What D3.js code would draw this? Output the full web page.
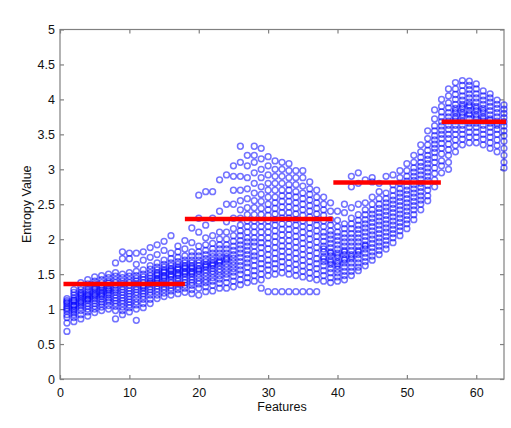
<!DOCTYPE html>
<html><head><meta charset="utf-8">
<script src="https://cdn.jsdelivr.net/npm/d3@7"></script>
<style>
html,body{margin:0;padding:0;background:#fff;}
svg{display:block;}
text{font-family:"Liberation Sans",Arial,sans-serif;fill:#111;}
</style></head>
<body><svg id="chart" width="511" height="428"></svg>
<script>
// Entropy samples per feature (features 1..64)
const samplesF01to18 = [
 [0.68,0.8,0.88,0.92,0.97,1.0,1.02,1.05,1.08,1.1,1.12,1.15],
 [0.82,0.88,0.92,0.95,0.98,1.0,1.03,1.06,1.1,1.13,1.16,1.2,1.24,1.28,1.05,1.12],
 [0.86,0.92,0.98,1.02,1.05,1.08,1.12,1.15,1.18,1.2,1.24,1.28,1.32,1.38,1.1,1.22],
 [0.9,0.96,1.0,1.04,1.08,1.12,1.15,1.18,1.22,1.25,1.28,1.32,1.36,1.42,1.14,1.2],
 [0.95,1.0,1.04,1.08,1.12,1.15,1.18,1.22,1.25,1.28,1.32,1.36,1.4,1.46,1.2,1.3],
 [0.98,1.03,1.07,1.1,1.14,1.18,1.2,1.24,1.27,1.3,1.34,1.38,1.42,1.48,1.22,1.32],
 [1.0,1.05,1.1,1.13,1.16,1.2,1.23,1.26,1.3,1.33,1.37,1.4,1.45,1.5,1.28],
 [0.86,0.98,1.04,1.08,1.12,1.16,1.2,1.24,1.27,1.3,1.34,1.38,1.42,1.47,1.52,1.66],
 [0.92,0.98,1.03,1.08,1.12,1.16,1.2,1.24,1.28,1.32,1.36,1.4,1.45,1.5,1.72,1.82],
 [0.96,1.02,1.06,1.1,1.14,1.18,1.22,1.26,1.3,1.34,1.38,1.42,1.47,1.52,1.72,1.8],
 [0.84,1.0,1.06,1.1,1.15,1.2,1.24,1.28,1.32,1.36,1.4,1.44,1.48,1.54,1.64,1.8],
 [1.02,1.08,1.14,1.18,1.22,1.26,1.3,1.34,1.38,1.42,1.46,1.5,1.56,1.7,1.82,1.32],
 [1.08,1.14,1.2,1.24,1.28,1.32,1.36,1.4,1.44,1.48,1.52,1.57,1.62,1.74,1.88,1.38],
 [1.15,1.2,1.25,1.29,1.33,1.37,1.4,1.44,1.48,1.52,1.56,1.6,1.66,1.78,1.92,1.42,1.5],
 [1.18,1.23,1.28,1.32,1.36,1.4,1.44,1.48,1.52,1.56,1.6,1.64,1.7,1.84,1.97,1.46,1.54],
 [1.2,1.26,1.3,1.34,1.38,1.42,1.46,1.5,1.54,1.58,1.62,1.66,1.72,1.8,2.05,1.48,1.56],
 [1.22,1.28,1.32,1.36,1.4,1.44,1.48,1.52,1.56,1.6,1.64,1.68,1.74,1.82,1.9,1.5,1.58],
 [1.24,1.3,1.34,1.38,1.42,1.46,1.5,1.54,1.58,1.62,1.66,1.7,1.76,1.86,1.98,1.52,1.6]
];
const samplesF19to39 = [
 [1.22,1.28,1.34,1.38,1.42,1.46,1.5,1.54,1.58,1.62,1.66,1.7,1.76,1.82,1.95,2.16,1.52,1.6],
 [1.2,1.3,1.36,1.4,1.45,1.5,1.54,1.58,1.62,1.66,1.7,1.76,1.82,1.9,2.1,2.3,2.63,1.56],
 [1.25,1.32,1.38,1.42,1.47,1.52,1.56,1.6,1.64,1.68,1.72,1.78,1.84,1.92,2.02,2.2,2.68,1.62],
 [1.26,1.34,1.4,1.45,1.5,1.54,1.58,1.62,1.66,1.7,1.75,1.8,1.86,1.94,2.05,2.3,2.68,1.64],
 [1.3,1.37,1.43,1.48,1.53,1.57,1.62,1.66,1.7,1.75,1.8,1.86,1.92,2.0,2.1,2.4,2.85,1.68],
 [1.3,1.38,1.45,1.5,1.55,1.6,1.65,1.7,1.75,1.8,1.86,1.92,2.0,2.1,2.25,2.5,2.92,1.72],
 [1.32,1.4,1.47,1.53,1.58,1.63,1.68,1.73,1.78,1.84,1.9,1.97,2.05,2.15,2.3,2.5,2.7,2.9,3.05],
 [1.35,1.42,1.5,1.56,1.62,1.68,1.74,1.8,1.86,1.92,1.98,2.05,2.12,2.2,2.3,2.42,2.55,2.7,2.9,3.1,3.33],
 [1.38,1.45,1.52,1.6,1.66,1.72,1.78,1.84,1.9,1.96,2.02,2.1,2.18,2.26,2.35,2.45,2.58,2.72,2.88,3.05,3.2],
 [1.4,1.48,1.55,1.62,1.7,1.76,1.82,1.9,1.96,2.02,2.1,2.18,2.26,2.35,2.45,2.55,2.66,2.8,2.95,3.1,3.2,3.33],
 [1.3,1.42,1.5,1.58,1.65,1.72,1.8,1.88,1.95,2.02,2.1,2.18,2.26,2.35,2.44,2.54,2.64,2.75,2.88,3.0,3.15,3.3],
 [1.25,1.48,1.56,1.63,1.7,1.78,1.86,1.94,2.02,2.1,2.18,2.26,2.34,2.42,2.5,2.6,2.7,2.8,2.92,3.05,3.18],
 [1.25,1.5,1.58,1.65,1.72,1.8,1.88,1.96,2.04,2.12,2.2,2.28,2.36,2.44,2.52,2.6,2.7,2.8,2.9,3.0,3.12],
 [1.25,1.52,1.6,1.68,1.75,1.83,1.9,1.98,2.06,2.14,2.22,2.3,2.38,2.46,2.54,2.62,2.7,2.8,2.9,3.0,3.1],
 [1.25,1.5,1.58,1.66,1.74,1.82,1.9,1.98,2.06,2.14,2.22,2.3,2.38,2.46,2.54,2.62,2.7,2.78,2.88,2.98,3.08],
 [1.25,1.48,1.56,1.64,1.72,1.8,1.88,1.96,2.04,2.12,2.2,2.28,2.36,2.44,2.52,2.6,2.68,2.78,2.88,2.98],
 [1.25,1.46,1.54,1.62,1.7,1.78,1.86,1.94,2.02,2.1,2.18,2.26,2.34,2.42,2.5,2.58,2.66,2.76,2.88,2.98],
 [1.25,1.44,1.52,1.6,1.68,1.76,1.84,1.92,2.0,2.08,2.16,2.24,2.32,2.4,2.48,2.56,2.64,2.72,2.82],
 [1.25,1.42,1.5,1.58,1.65,1.72,1.8,1.88,1.96,2.04,2.12,2.2,2.28,2.36,2.44,2.52,2.6,2.7],
 [1.4,1.48,1.55,1.62,1.68,1.75,1.82,1.9,1.97,2.04,2.1,2.18,2.26,2.34,2.42,2.5,2.6,1.72,1.86],
 [1.38,1.45,1.52,1.58,1.64,1.7,1.76,1.82,1.88,1.94,2.0,2.06,2.12,2.2,2.28,2.4,2.52,1.67,1.8]
];
const samplesF40to54 = [
 [1.4,1.46,1.52,1.57,1.62,1.68,1.74,1.8,1.86,1.92,1.98,2.04,2.1,2.18,2.27,2.4,1.65,1.77],
 [1.42,1.48,1.54,1.6,1.66,1.72,1.78,1.84,1.9,1.96,2.02,2.08,2.15,2.22,2.38,2.5,1.7,1.82],
 [1.48,1.54,1.6,1.66,1.72,1.78,1.84,1.9,1.96,2.02,2.08,2.15,2.22,2.3,2.45,2.75,2.9,1.75],
 [1.55,1.6,1.66,1.72,1.78,1.84,1.9,1.96,2.02,2.08,2.14,2.2,2.27,2.35,2.5,2.8,2.95,1.82],
 [1.62,1.68,1.74,1.8,1.86,1.92,1.98,2.04,2.1,2.16,2.22,2.28,2.35,2.42,2.52,2.85,1.9],
 [1.7,1.76,1.82,1.88,1.94,2.0,2.06,2.12,2.18,2.24,2.3,2.36,2.42,2.5,2.6,2.82,2.88],
 [1.78,1.84,1.9,1.96,2.02,2.08,2.14,2.2,2.26,2.32,2.38,2.44,2.5,2.58,2.68,2.8],
 [1.86,1.92,1.98,2.04,2.1,2.16,2.22,2.28,2.34,2.4,2.46,2.52,2.58,2.66,2.9],
 [1.95,2.02,2.08,2.14,2.2,2.26,2.32,2.38,2.44,2.5,2.56,2.62,2.7,2.78,2.92],
 [2.05,2.12,2.18,2.24,2.3,2.36,2.42,2.48,2.54,2.6,2.66,2.72,2.8,2.88,2.98],
 [2.15,2.22,2.28,2.34,2.4,2.46,2.52,2.58,2.64,2.7,2.76,2.83,2.9,2.98,3.08],
 [2.28,2.35,2.42,2.48,2.54,2.6,2.66,2.72,2.78,2.84,2.9,2.96,3.02,3.1,3.2],
 [2.42,2.5,2.56,2.62,2.68,2.74,2.8,2.86,2.92,2.98,3.04,3.1,3.17,3.25,3.35],
 [2.55,2.62,2.7,2.77,2.84,2.9,2.96,3.02,3.08,3.14,3.2,3.27,3.35,3.44,3.55],
 [2.75,2.85,2.94,3.02,3.1,3.17,3.24,3.3,3.36,3.42,3.48,3.55,3.62,3.72,3.85]
];
const samplesF55to64 = [
 [2.95,3.05,3.12,3.22,3.3,3.37,3.44,3.5,3.56,3.62,3.68,3.75,3.82,3.9,4.0],
 [3.0,3.1,3.2,3.28,3.36,3.44,3.5,3.57,3.63,3.69,3.75,3.81,3.88,3.95,4.05,4.15],
 [3.25,3.34,3.42,3.5,3.57,3.63,3.69,3.75,3.81,3.87,3.93,4.0,4.07,4.15,4.24,3.72,3.84],
 [3.35,3.43,3.5,3.57,3.63,3.69,3.75,3.81,3.87,3.93,3.99,4.05,4.12,4.2,4.27,3.78,3.9],
 [3.38,3.46,3.53,3.6,3.66,3.72,3.78,3.84,3.9,3.96,4.02,4.08,4.14,4.2,4.26,3.8,3.92],
 [3.38,3.46,3.53,3.6,3.66,3.72,3.78,3.84,3.9,3.96,4.02,4.08,4.15,4.22,3.75,3.87],
 [3.35,3.43,3.5,3.57,3.63,3.69,3.75,3.81,3.87,3.93,3.99,4.05,4.12,3.72,3.84],
 [3.3,3.38,3.46,3.53,3.6,3.66,3.72,3.78,3.84,3.9,3.96,4.02,4.08,3.7],
 [3.25,3.34,3.42,3.5,3.57,3.63,3.69,3.75,3.81,3.87,3.93,3.99,3.66],
 [3.02,3.1,3.2,3.3,3.4,3.48,3.55,3.62,3.68,3.74,3.8,3.86,3.92]
];
// segment mean lines
const segStart = [0.5, 18, 39.4, 55];
const segEnd   = [18, 39.3, 54.9, 64.3];
const segMean  = [1.36, 2.29, 2.81, 3.68];
const xTicks = [0,10,20,30,40,50,60];
const yTicks = [0,0.5,1,1.5,2,2.5,3,3.5,4,4.5,5];

const allSamples = samplesF01to18.concat(samplesF19to39, samplesF40to54, samplesF55to64);
const points = [];
allSamples.forEach((vals,i)=>vals.forEach(v=>points.push({f:i+1,v})));

const svg = d3.select('#chart');
const L=60, R=504, T=29.5, B=379;
const x = d3.scaleLinear().domain([0,64]).range([L,R]);
const y = d3.scaleLinear().domain([0,5]).range([B,T]);

const axisColor = '#808080';
svg.append('rect').attr('x',L).attr('y',T).attr('width',R-L).attr('height',B-T)
  .attr('fill','none').attr('stroke',axisColor).attr('stroke-width',1.2);

const gx = svg.append('g').attr('transform',`translate(0,${B})`)
  .call(d3.axisBottom(x).tickValues(xTicks).tickSizeInner(-4).tickSizeOuter(0).tickPadding(9));
const gxt = svg.append('g').attr('transform',`translate(0,${T})`)
  .call(d3.axisTop(x).tickValues(xTicks).tickSizeInner(-4).tickSizeOuter(0).tickFormat(''));
const gy = svg.append('g').attr('transform',`translate(${L},0)`)
  .call(d3.axisLeft(y).tickValues(yTicks).tickSizeInner(-4).tickSizeOuter(0).tickPadding(5).tickFormat(d3.format('')));
const gyr = svg.append('g').attr('transform',`translate(${R},0)`)
  .call(d3.axisRight(y).tickValues(yTicks).tickSizeInner(-4).tickSizeOuter(0).tickFormat(''));
[gx,gxt,gy,gyr].forEach(g=>{
  g.select('.domain').remove();
  g.selectAll('line').attr('stroke',axisColor).attr('stroke-width',1.2);
  g.selectAll('text').attr('font-size',12.5).attr('fill','#111').attr('font-family','"Liberation Sans",Arial,sans-serif');
});

svg.append('g').selectAll('circle').data(points).join('circle')
  .attr('cx',d=>x(d.f)).attr('cy',d=>y(d.v)).attr('r',2.9)
  .attr('fill','none').attr('stroke','#0000ff').attr('stroke-opacity',0.55).attr('stroke-width',1.5);

svg.append('g').selectAll('line').data(segMean).join('line')
  .attr('x1',(d,i)=>x(segStart[i])).attr('x2',(d,i)=>x(segEnd[i]))
  .attr('y1',d=>y(d)).attr('y2',d=>y(d))
  .attr('stroke','#ff0000').attr('stroke-width',4.5);

svg.append('text').attr('x',(L+R)/2).attr('y',411).attr('text-anchor','middle')
  .attr('font-size',12.5).text('Features');
svg.append('text').attr('transform',`translate(31,${(T+B)/2}) rotate(-90)`)
  .attr('text-anchor','middle').attr('font-size',12.5).text('Entropy Value');
</script></body></html>
